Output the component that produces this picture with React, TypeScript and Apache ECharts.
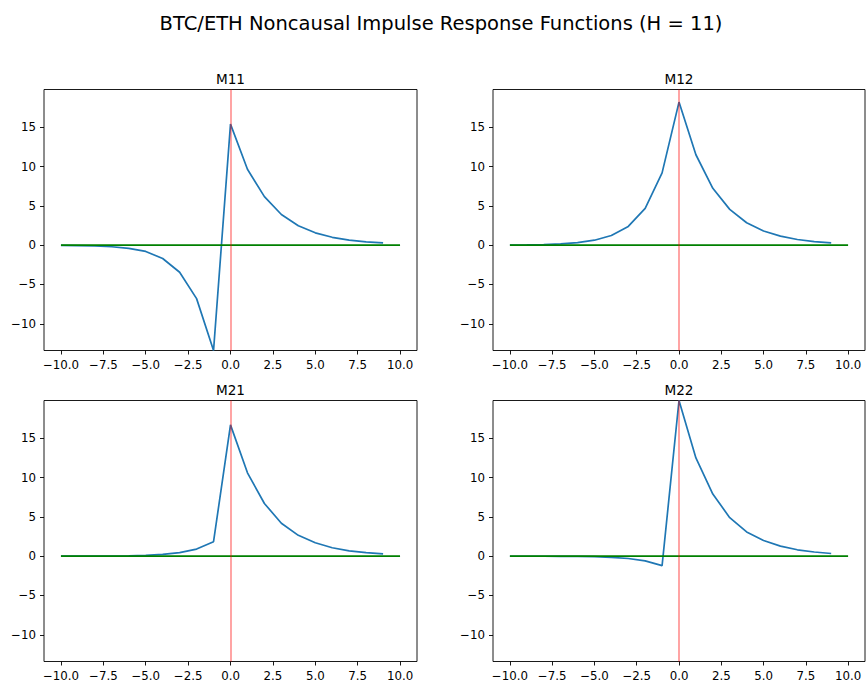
import React, { useEffect, useRef } from "react";
import * as echarts from "echarts";

// Horizons -10 .. 9 for the response curves, -10 .. 10 for the zero baseline
const lags = [-10, -9, -8, -7, -6, -5, -4, -3, -2, -1, 0, 1, 2, 3, 4, 5, 6, 7, 8, 9];
const baselineLags = [-10, -9, -8, -7, -6, -5, -4, -3, -2, -1, 0, 1, 2, 3, 4, 5, 6, 7, 8, 9, 10];

const m11 = [-0.025, -0.05, -0.1, -0.2, -0.4, -0.8, -1.7, -3.45, -6.8, -13.4, 15.4, 9.66, 6.17, 3.9, 2.47, 1.57, 1.0, 0.65, 0.42, 0.28];
const m12 = [0.02, 0.04, 0.08, 0.16, 0.32, 0.63, 1.23, 2.38, 4.68, 9.19, 18.2, 11.5, 7.23, 4.55, 2.85, 1.8, 1.15, 0.72, 0.46, 0.3];
const m21 = [0.0, 0.01, 0.01, 0.02, 0.05, 0.11, 0.22, 0.45, 0.9, 1.84, 16.7, 10.6, 6.7, 4.19, 2.65, 1.7, 1.07, 0.68, 0.45, 0.3];
const m22 = [-0.01, -0.01, -0.01, -0.02, -0.04, -0.07, -0.15, -0.3, -0.6, -1.2, 19.8, 12.5, 7.9, 4.9, 3.08, 2.0, 1.28, 0.81, 0.53, 0.34];

const panelNames = ["M11", "M12", "M21", "M22"];
const panelSeries = [m11, m12, m21, m22];

const xTicks = [-10, -7.5, -5, -2.5, 0, 2.5, 5, 7.5, 10];
const yTicks = [-10, -5, 0, 5, 10, 15];

const FONT = "DejaVu Sans";

const fmtSigned = (v: number, digits: number) =>
  (v < 0 ? "\u2212" : "") + Math.abs(v).toFixed(digits);

export default function App() {
  const ref = useRef<HTMLDivElement>(null);

  useEffect(() => {
    if (!ref.current) return;
    const chart = echarts.init(ref.current, undefined, { renderer: "svg" });

    const all = panelSeries.flat();
    const yMin = Math.min(...all);
    const yMax = Math.max(...all);

    const grids = [
      { left: 44, top: 89.5, width: 373, height: 261 },
      { left: 493, top: 89.5, width: 372, height: 261 },
      { left: 44, top: 400.5, width: 373, height: 261 },
      { left: 493, top: 400.5, width: 372, height: 261 },
    ];

    const xAxis = grids.map((_, i) => ({
      type: "value" as const,
      gridIndex: i,
      min: -11,
      max: 11,
      axisLine: { show: false, onZero: false },
      axisTick: {
        show: true,
        length: 4,
        lineStyle: { color: "#000", width: 0.9 },
        customValues: xTicks,
      },
      axisLabel: {
        color: "#000",
        fontFamily: FONT,
        fontSize: 11.8,
        margin: 8,
        customValues: xTicks,
        formatter: (v: number) => fmtSigned(v, 1),
      },
      splitLine: { show: false },
    }));

    const yAxis = grids.map((_, i) => ({
      type: "value" as const,
      gridIndex: i,
      min: yMin,
      max: yMax,
      axisLine: { show: false, onZero: false },
      axisTick: {
        show: true,
        length: 4,
        lineStyle: { color: "#000", width: 0.9 },
        customValues: yTicks,
      },
      axisLabel: {
        color: "#000",
        fontFamily: FONT,
        fontSize: 11.8,
        margin: 8,
        customValues: yTicks,
        formatter: (v: number) => fmtSigned(v, 0),
      },
      splitLine: { show: false },
    }));

    const series: any[] = [];
    panelSeries.forEach((vals, i) => {
      series.push({
        type: "line",
        xAxisIndex: i,
        yAxisIndex: i,
        data: lags.map((x, k) => [x, vals[k]]),
        showSymbol: false,
        lineStyle: { color: "#1f77b4", width: 1.7 },
        z: 2,
      });
      series.push({
        type: "line",
        xAxisIndex: i,
        yAxisIndex: i,
        data: baselineLags.map((x) => [x, 0]),
        showSymbol: false,
        lineStyle: { color: "#008000", width: 1.8 },
        z: 3,
        markLine: {
          silent: true,
          symbol: "none",
          label: { show: false },
          lineStyle: { color: "rgba(255,0,0,0.42)", width: 1.7, type: "solid" },
          data: [{ xAxis: 0 }],
          z: 4,
        },
      });
    });

    const graphic: any[] = [
      {
        type: "text",
        x: 441,
        y: 23,
        style: {
          text: "BTC/ETH Noncausal Impulse Response Functions (H = 11)",
          fontFamily: FONT,
          fontSize: 19.5,
          fill: "#000",
          align: "center",
          verticalAlign: "middle",
        },
      },
    ];
    grids.forEach((g, i) => {
      graphic.push({
        type: "text",
        x: g.left + g.width / 2,
        y: g.top - 10.5,
        style: {
          text: panelNames[i],
          fontFamily: FONT,
          fontSize: 13.6,
          fill: "#000",
          align: "center",
          verticalAlign: "middle",
        },
      });
    });

    chart.setOption({
      animation: false,
      backgroundColor: "#fff",
      grid: grids.map((g) => ({
        ...g,
        show: true,
        borderColor: "#000",
        borderWidth: 0.9,
        backgroundColor: "transparent",
      })),
      xAxis,
      yAxis,
      series,
      graphic,
    });

    return () => chart.dispose();
  }, []);

  return (
    <div
      ref={ref}
      style={{ position: "fixed", left: 0, top: 0, width: 866, height: 682, background: "#fff" }}
    />
  );
}
